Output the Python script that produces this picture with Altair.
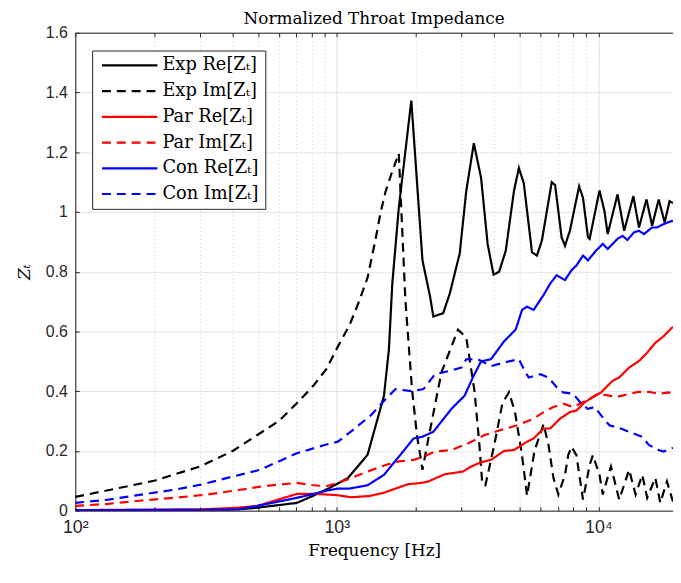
import altair as alt
import pandas as pd

# ---------------- data ----------------
series_names = ["Exp Re[Zₜ]", "Exp Im[Zₜ]", "Par Re[Zₜ]", "Par Im[Zₜ]", "Con Re[Zₜ]", "Con Im[Zₜ]"]
series_colors = ["#000000", "#000000", "#ff0000", "#ff0000", "#0000ff", "#0000ff"]
series_dash = [[1, 0], [9, 6], [1, 0], [9, 6], [1, 0], [9, 6]]

exp_re_f = [100, 200, 300, 418, 497, 703, 813, 937, 1102, 1311, 1515, 1582, 1630, 1726, 1927,
            2126, 2274, 2339, 2551, 2704, 2907, 2950, 3126, 3342, 3562, 3773, 3975, 4176, 4426,
            4757, 4968, 5186, 5576, 5824, 6084, 6637, 6835, 7238, 7456, 7786, 8443, 8740, 9130,
            9265, 10104, 10554, 10860, 11844, 12558, 13614, 14304, 15283, 16058, 17017, 17931,
            18729, 19300]
exp_re_v = [0.002, 0.002, 0.003, 0.004, 0.010, 0.026, 0.050, 0.076, 0.109, 0.187, 0.385, 0.54, 0.76,
            1.014, 1.373, 0.838, 0.716, 0.650, 0.661, 0.727, 0.838, 0.860, 1.070, 1.230, 1.114,
            0.893, 0.790, 0.800, 0.870, 1.070, 1.147, 1.097, 0.865, 0.854, 0.904, 1.100, 1.090,
            0.915, 0.887, 0.937, 1.086, 1.047, 0.915, 0.910, 1.072, 1.003, 0.926, 1.059, 0.937,
            1.053, 0.948, 1.042, 0.954, 1.042, 0.965, 1.036, 1.030]

exp_im_f = [100, 200, 300, 400, 500, 600, 700, 813, 912, 1010, 1117, 1216, 1311, 1400, 1472, 1538,
            1630, 1726, 1829, 1939, 2025, 2126, 2240, 2513, 2907, 3126, 3362, 3510, 3600, 3700,
            4000, 4300, 4556, 4800, 5100, 5340, 5700, 6174, 6449, 6735, 7033, 7456, 7674, 7897,
            8247, 8492, 8740, 9265, 9530, 10104, 10399, 11021, 11175, 12020, 12558, 13113, 13887,
            14723, 15375, 16520, 17258, 18294, 19100, 19300]
exp_im_v = [0.046, 0.100, 0.148, 0.200, 0.255, 0.300, 0.358, 0.418, 0.474, 0.550, 0.620, 0.700,
            0.780, 0.900, 1.000, 1.070, 1.136, 1.196, 0.705, 0.407, 0.253, 0.137, 0.242, 0.463,
            0.606, 0.580, 0.400, 0.220, 0.090, 0.085, 0.220, 0.360, 0.397, 0.330, 0.190, 0.050,
            0.200, 0.290, 0.220, 0.110, 0.054, 0.120, 0.186, 0.214, 0.186, 0.110, 0.037, 0.153,
            0.186, 0.120, 0.054, 0.131, 0.148, 0.037, 0.087, 0.137, 0.054, 0.120, 0.043, 0.110,
            0.026, 0.098, 0.043, 0.030]

par_re_f = [100, 300, 418, 497, 703, 837, 1000, 1134, 1330, 1515, 1778, 1882, 2115, 2240, 2589,
            3036, 3266, 3562, 3886, 4362, 4757, 5338, 5659, 5998, 6174, 6545, 7138, 7786, 8247,
            8870, 9530, 10247, 11341, 12020, 13113, 14304, 15375, 16520, 17775, 19100, 19300]
par_re_v = [0.002, 0.004, 0.010, 0.016, 0.056, 0.056, 0.052, 0.045, 0.049, 0.060, 0.082, 0.089,
            0.093, 0.098, 0.122, 0.131, 0.148, 0.162, 0.170, 0.200, 0.203, 0.231, 0.242, 0.264,
            0.275, 0.275, 0.308, 0.330, 0.335, 0.363, 0.380, 0.396, 0.435, 0.446, 0.479, 0.501,
            0.529, 0.562, 0.584, 0.612, 0.615]

par_im_f = [100, 134, 179, 239, 320, 428, 523, 703, 813, 912, 1010, 1134, 1311, 1538, 1726, 1967,
            2145, 2374, 2745, 3170, 3666, 4239, 4895, 5659, 6174, 6735, 7345, 8014, 8492, 9265,
            9955, 11021, 11671, 13113, 14304, 15603, 17017, 18566, 19300]
par_im_v = [0.016, 0.023, 0.034, 0.043, 0.054, 0.070, 0.082, 0.093, 0.085, 0.082, 0.093, 0.109,
            0.131, 0.153, 0.165, 0.170, 0.181, 0.198, 0.203, 0.225, 0.253, 0.270, 0.286, 0.308,
            0.330, 0.347, 0.358, 0.347, 0.358, 0.374, 0.391, 0.385, 0.380, 0.391, 0.398, 0.398,
            0.391, 0.396, 0.391]

con_re_f = [100, 300, 418, 497, 703, 813, 912, 1010, 1117, 1311, 1515, 1751, 1967, 2115, 2339,
            2745, 3081, 3313, 3562, 3886, 4362, 4828, 5110, 5338, 5659, 6174, 6545, 6930, 7456,
            7897, 8247, 8740, 9130, 9811, 10399, 10860, 11844, 12373, 12921, 13697, 14304, 14939,
            16058, 16768, 17514, 19100, 19300]
con_re_v = [0.002, 0.003, 0.004, 0.016, 0.043, 0.056, 0.067, 0.074, 0.074, 0.085, 0.120, 0.187,
            0.242, 0.247, 0.264, 0.341, 0.385, 0.446, 0.500, 0.507, 0.567, 0.606, 0.672, 0.683,
            0.672, 0.722, 0.760, 0.788, 0.772, 0.805, 0.821, 0.854, 0.838, 0.871, 0.893, 0.876,
            0.910, 0.920, 0.906, 0.932, 0.937, 0.926, 0.948, 0.948, 0.957, 0.970, 0.968]

con_im_f = [100, 134, 179, 239, 302, 403, 509, 703, 899, 1010, 1151, 1349, 1538, 1677, 1939,
            2145, 2374, 2704, 2993, 3126, 3458, 3886, 4362, 4968, 5264, 5418, 5998, 6449, 6930,
            7345, 8014, 8610, 9130, 9676, 10247, 11021, 12190, 13113, 14723, 15603, 17017, 17775,
            19100, 19300]
con_im_v = [0.026, 0.037, 0.054, 0.070, 0.087, 0.115, 0.137, 0.192, 0.220, 0.231, 0.270, 0.319,
            0.374, 0.407, 0.400, 0.407, 0.457, 0.468, 0.479, 0.507, 0.507, 0.484, 0.496, 0.507,
            0.463, 0.446, 0.457, 0.446, 0.413, 0.396, 0.391, 0.358, 0.341, 0.347, 0.319, 0.286,
            0.275, 0.264, 0.247, 0.220, 0.203, 0.198, 0.209, 0.210]

x_ticks = [100, 200, 300, 400, 500, 600, 700, 800, 900,
           1000, 2000, 3000, 4000, 5000, 6000, 7000, 8000, 9000, 10000]
y_ticks = [0, 0.2, 0.4, 0.6, 0.8, 1.0, 1.2, 1.4, 1.6]

all_f = [exp_re_f, exp_im_f, par_re_f, par_im_f, con_re_f, con_im_f]
all_v = [exp_re_v, exp_im_v, par_re_v, par_im_v, con_re_v, con_im_v]

rows = []
for k, (name, fs, vs) in enumerate(zip(series_names, all_f, all_v)):
    for f, v in zip(fs, vs):
        rows.append({"series": name, "f": f, "z": v, "k": k})
df = pd.DataFrame(rows)

# ---------------- chart ----------------
SERIF = "DejaVu Serif"
SANS = "Liberation Sans"
AX = "#262626"
major_test = "datum.value == 100 || datum.value == 1000 || datum.value == 10000"

xscale = alt.Scale(type="log", domain=[100, 19300], nice=False)
yscale = alt.Scale(domain=[0, 1.6], nice=False, zero=False)

legend = alt.Legend(
    title=None, orient="none", legendX=17, legendY=18,
    symbolType="M-4,0H4", symbolSize=196, symbolStrokeWidth=2.2,
    symbolOffset=23, labelOffset=24,
    labelFont=SERIF, labelFontSize=18, labelColor="#000000",
    rowPadding=8, padding=6, strokeColor=AX, fillColor="white",
)

lines = alt.Chart(df).mark_line(strokeWidth=2.2, clip=True).encode(
    x=alt.X("f:Q", scale=xscale, axis=alt.Axis(
        values=x_ticks, labelExpr="datum.value == 100 ? '10²' : datum.value == 1000 ? '10³' : datum.value == 10000 ? '10⁴' : ''",
        labelFont=SANS, labelFontSize=18, labelColor=AX, labelPadding=8, labelFlush=False, labelOverlap=False,
        ticks=False, grid=True,
        gridColor=alt.condition(major_test, alt.value("#dcdcdc"), alt.value("#c8c8c8")),
        gridDash=alt.condition(major_test, alt.value([1, 0]), alt.value([1, 3])),
        domainColor=AX, domainWidth=1,
        title="Frequency [Hz]", titleFont=SERIF, titleFontSize=17, titleFontWeight="normal",
        titleColor="#000000", titlePadding=6)),
    y=alt.Y("z:Q", scale=yscale, axis=alt.Axis(
        values=y_ticks, format=".1~f",
        labelFont=SANS, labelFontSize=16, labelColor=AX, labelPadding=8,
        ticks=False, grid=True, gridColor="#e3e3e3",
        domainColor=AX, domainWidth=1,
        title="Zₜ", titleFont=SERIF, titleFontStyle="italic", titleFontSize=17,
        titleFontWeight="normal", titleColor="#000000", titlePadding=12)),
    color=alt.Color("series:N", scale=alt.Scale(domain=series_names, range=series_colors), legend=legend),
    strokeDash=alt.StrokeDash("series:N", scale=alt.Scale(domain=series_names, range=series_dash), legend=legend),
    order=alt.Order("k:Q"),
)


def hidden_layer(xaxis, yaxis):
    return alt.Chart(df).mark_point(opacity=0, size=1).encode(
        x=alt.X("f:Q", scale=xscale, axis=xaxis),
        y=alt.Y("z:Q", scale=yscale, axis=yaxis),
    )


top_border = hidden_layer(
    alt.Axis(orient="top", values=x_ticks, labels=False, ticks=False, grid=False, domain=True,
             domainColor=AX, title=None), None)
bottom_ticks = hidden_layer(
    alt.Axis(orient="bottom", values=x_ticks, labels=False, ticks=True, tickSize=4, tickColor=AX,
             offset=-4, grid=False, domain=False, title=None), None)
top_ticks = hidden_layer(
    alt.Axis(orient="top", values=x_ticks, labels=False, ticks=True, tickSize=4, tickColor=AX,
             offset=-4, grid=False, domain=False, title=None), None)
left_ticks = hidden_layer(
    None, alt.Axis(orient="left", values=y_ticks, labels=False, ticks=True, tickSize=4, tickColor=AX,
                   offset=-4, grid=False, domain=False, title=None))

chart = alt.layer(lines, top_border, bottom_ticks, top_ticks, left_ticks).resolve_axis(
    x="independent", y="independent"
).properties(
    width=604, height=483,
    title=alt.TitleParams("Normalized Throat Impedance", font=SERIF, fontSize=17,
                          fontWeight="normal", color="#000000", offset=-3),
    autosize=alt.AutoSizeParams(type="none"),
    padding={"left": 68, "top": 22, "right": 0, "bottom": 60},
).configure_view(stroke=None).configure(background="white")

chart.save("out.html", embed_options={"renderer": "svg", "actions": False})
